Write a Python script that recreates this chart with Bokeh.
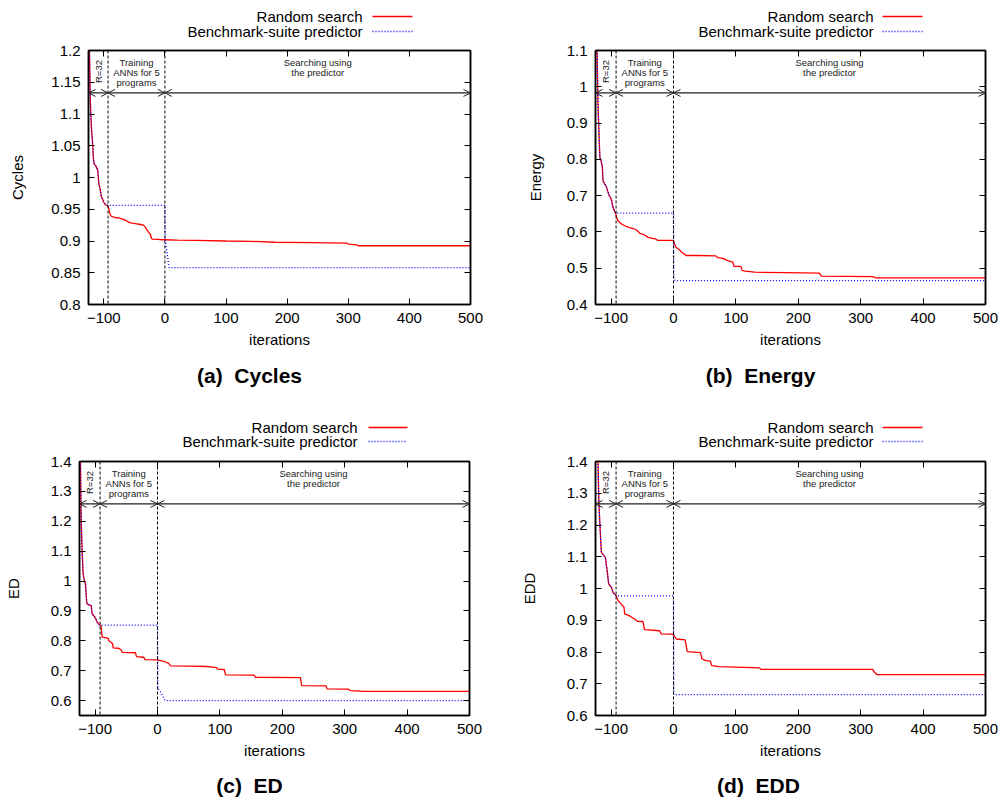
from bokeh.plotting import figure
from bokeh.models import (Range1d, FixedTicker, LinearAxis, Span, Label, Arrow,
                          OpenHead, CustomJSTickFormatter)
from bokeh.layouts import column, row
from bokeh.embed import file_html
from bokeh.resources import INLINE

FONT = "Liberation Sans"

# ---------------- data ----------------
X_RANGE = (-125, 500)
X_TICKS = [-100, 0, 100, 200, 300, 400, 500]
SERIES_NAMES = ["Random search", "Benchmark-suite predictor"]
SERIES_COLORS = ["#ff0000", "#0000ff"]
SERIES_DASH = ["solid", "1 2"]

# (a) Cycles
A_rx = [-125, -123.5, -122, -120, -118, -117, -116, -113, -111, -110, -108, -106, -104, -102, -100,
        -97, -94, -92, -90, -88, -82, -74, -68, -63, -58, -53, -46, -40, -35, -33, -31, -29, -27, -24,
        -22, -20, -12, -4, 0, 20, 50, 100, 140, 180, 240, 298, 300, 314, 316, 500]
A_ry = [1.40, 1.20, 1.12, 1.075, 1.05, 1.03, 1.022, 1.018, 1.014, 1.012, 0.99, 0.982, 0.97, 0.966, 0.961,
        0.957, 0.956, 0.952, 0.943, 0.939, 0.937, 0.936, 0.934, 0.932, 0.929, 0.928, 0.927, 0.926, 0.925, 0.923,
        0.92, 0.917, 0.914, 0.911, 0.904, 0.903, 0.9025, 0.902, 0.902, 0.9015, 0.901, 0.9, 0.8995, 0.898, 0.8975,
        0.8965, 0.895, 0.894, 0.8925, 0.8925]
A_bx = [-125, -123.5, -122, -120, -118, -117, -116, -113, -111, -110, -108, -106, -104, -102, -100,
        -97, -93, 0, 0.5, 3, 7, 500]
A_by = [1.40, 1.20, 1.12, 1.075, 1.05, 1.03, 1.022, 1.018, 1.014, 1.012, 0.99, 0.982, 0.97, 0.966, 0.961,
        0.957, 0.956, 0.956, 0.90, 0.885, 0.858, 0.858]

# (b) Energy
B_rx = [-125, -122.5, -121, -120, -119, -118, -116, -114, -113, -110, -108, -105, -103, -101, -99, -97, -95,
        -93, -91, -89, -86, -83, -78, -73, -66, -60, -56, -54, -48, -45, -41, -35, -28, -25, -10, 0, 2, 4, 7,
        10, 13, 17, 20, 40, 68, 71, 79, 87, 95, 97, 108, 110, 115, 130, 180, 234, 237, 280, 319, 324, 500]
B_ry = [1.3, 1.1, 0.95, 0.9, 0.85, 0.806, 0.795, 0.78, 0.74, 0.732, 0.727, 0.71, 0.7, 0.695, 0.685, 0.668, 0.66,
        0.652, 0.64, 0.631, 0.626, 0.622, 0.617, 0.613, 0.61, 0.606, 0.6, 0.596, 0.593, 0.59, 0.585, 0.583, 0.58,
        0.5765, 0.5765, 0.5765, 0.565, 0.558, 0.5535, 0.55, 0.544, 0.54, 0.535, 0.535, 0.534, 0.529, 0.527,
        0.521, 0.517, 0.505, 0.505, 0.494, 0.492, 0.489, 0.488, 0.4865, 0.478, 0.4775, 0.477, 0.4735, 0.4735]
B_bx = [-125, -122.5, -121, -120, -119, -118, -116, -114, -113, -110, -108, -105, -103, -101, -99, -97, -95,
        -93, 0, 0.5, 2.5, 500]
B_by = [1.3, 1.1, 0.95, 0.9, 0.85, 0.806, 0.795, 0.78, 0.74, 0.732, 0.727, 0.71, 0.7, 0.695, 0.685, 0.668, 0.66,
        0.652, 0.652, 0.475, 0.466, 0.466]

# (c) ED
C_rx = [-125, -123.5, -122.4, -120.8, -119.2, -117, -115.4, -113.5, -112.7, -106.3, -105, -104.7, -102, -100.5,
        -98, -96.7, -94, -92, -90.5, -88.6, -82, -79, -78, -74.5, -72, -71, -62, -58, -56.6, -35.3, -33.7, -22,
        -20.3, 0, 10, 18, 21, 50, 79.6, 88, 95, 96, 107, 109, 154.5, 157, 229, 231, 270, 272, 306, 309, 330, 500]
C_ry = [1.6, 1.4, 1.213, 1.101, 1.024, 1.0, 0.99, 0.93, 0.923, 0.918, 0.895, 0.89, 0.884, 0.879, 0.87, 0.862,
        0.856, 0.852, 0.85, 0.812, 0.81, 0.808, 0.80, 0.795, 0.79, 0.776, 0.775, 0.768, 0.7615, 0.76, 0.747, 0.745,
        0.737, 0.736, 0.7315, 0.7247, 0.716, 0.715, 0.714, 0.712, 0.71, 0.705, 0.704, 0.686, 0.685, 0.678, 0.677,
        0.65, 0.649, 0.639, 0.638, 0.6335, 0.631, 0.631]
C_bx = [-125, -123.5, -122.4, -120.8, -119.2, -117, -115.4, -113.5, -112.7, -106.3, -105, -104.7, -102, -100.5,
        -98, -96.7, -94, -92, 0, 0.5, 4, 12, 500]
C_by = [1.6, 1.4, 1.213, 1.101, 1.024, 1.0, 0.99, 0.93, 0.923, 0.918, 0.895, 0.89, 0.884, 0.879, 0.87, 0.862,
        0.856, 0.8525, 0.8525, 0.64, 0.632, 0.60, 0.60]

# (d) EDD
D_rx = [-125, -121, -119.7, -118, -115.6, -112, -109.2, -106, -103.9, -99.6, -97, -92, -89, -84, -79.3, -78.3,
        -71.3, -62.4, -58, -49, -46.4, -22.4, -19.7, -3.7, 0, 4.3, 18.7, 22, 43.2, 45.8, 52.2, 59.2, 61.3, 73.6,
        137.6, 140, 194, 319.5, 322, 326, 500]
D_ry = [1.6, 1.4, 1.276, 1.203, 1.114, 1.105, 1.098, 1.051, 1.014, 1.004, 0.988, 0.9775, 0.962, 0.9514, 0.941,
        0.92, 0.9145, 0.904, 0.8967, 0.896, 0.8705, 0.867, 0.857, 0.856, 0.855, 0.841, 0.838, 0.801, 0.798, 0.778,
        0.773, 0.771, 0.757, 0.754, 0.75, 0.7456, 0.745, 0.745, 0.736, 0.729, 0.729]
D_bx = [-125, -121, -119.7, -118, -115.6, -112, -109.2, -106, -103.9, -99.6, -97, -92, 0, 0.5, 500]
D_by = [1.6, 1.4, 1.276, 1.203, 1.114, 1.105, 1.098, 1.051, 1.014, 1.004, 0.988, 0.9765, 0.9765, 0.666, 0.666]

W = 502
NB = "\u00a0"
PANELS = [
    dict(caption="(a)" + NB + NB + "Cycles", ylabel="Cycles", yr=(0.8, 1.2),
         yt=[0.8, 0.85, 0.9, 0.95, 1.0, 1.05, 1.1, 1.15, 1.2], rend=-93,
         rx=A_rx, ry=A_ry, bx=A_bx, by=A_by,
         leg_h=42, leg_rows=(16, 31), leg_text_x=362, leg_line=(372, 412),
         main_h=318, left=88, right=32, top=8, bottom=56, ylstand=22,
         cap_h=40, cap_x=249, cap_y=14.5),
    dict(caption="(b)" + NB + NB + "Energy", ylabel="Energy", yr=(0.4, 1.1),
         yt=[0.4, 0.5, 0.6, 0.7, 0.8, 0.9, 1.0, 1.1], rend=-92,
         rx=B_rx, ry=B_ry, bx=B_bx, by=B_by,
         leg_h=42, leg_rows=(16, 31), leg_text_x=371, leg_line=(380, 420),
         main_h=318, left=93, right=19, top=8, bottom=56, ylstand=20,
         cap_h=40, cap_x=258, cap_y=14.5),
    dict(caption="(c)" + NB + NB + "ED", ylabel="ED", yr=(0.55, 1.4),
         yt=[0.6, 0.7, 0.8, 0.9, 1.0, 1.1, 1.2, 1.3, 1.4], rend=-92,
         rx=C_rx, ry=C_ry, bx=C_bx, by=C_by,
         leg_h=50, leg_rows=(27, 41), leg_text_x=357, leg_line=(368, 407),
         main_h=315, left=79, right=33, top=11, bottom=50, ylstand=26,
         cap_h=36, cap_x=249, cap_y=20),
    dict(caption="(d)" + NB + NB + "EDD", ylabel="EDD", yr=(0.6, 1.4),
         yt=[0.6, 0.7, 0.8, 0.9, 1.0, 1.1, 1.2, 1.3, 1.4], rend=-92,
         rx=D_rx, ry=D_ry, bx=D_bx, by=D_by,
         leg_h=50, leg_rows=(27, 41), leg_text_x=371, leg_line=(380, 420),
         main_h=315, left=93, right=19, top=11, bottom=50, ylstand=26,
         cap_h=36, cap_x=256, cap_y=20),
]

YFMT = "return String(parseFloat(tick.toFixed(2)));"
EMPTY = "return '';"


def blank_fig(c, h):
    # the frame of this helper figure is aligned (by the column layout) with the frame
    # of the main plot, so its x range is expressed in figure-pixel coordinates
    f = figure(width=W, height=h, x_range=Range1d(c["left"], W - c["right"]), y_range=Range1d(h, 0),
               output_backend="svg", toolbar_location=None,
               x_axis_location=None, y_axis_location=None,
               min_border_left=c["left"], min_border_right=c["right"],
               min_border_top=0, min_border_bottom=0)
    f.xgrid.visible = False
    f.ygrid.visible = False
    f.outline_line_color = None
    f.background_fill_color = "white"
    f.border_fill_color = "white"
    return f


def legend_fig(c):
    f = blank_fig(c, c["leg_h"])
    for name, col, dash, ry in zip(SERIES_NAMES, SERIES_COLORS, SERIES_DASH, c["leg_rows"]):
        f.add_layout(Label(x=c["leg_text_x"], y=ry, text=name, text_font=FONT, text_font_size="15px",
                           text_align="right", text_baseline="middle", text_color="black"))
        f.line(x=list(c["leg_line"]), y=[ry, ry], line_color=col, line_width=1.3, line_dash=dash)
    return f


def caption_fig(c):
    f = blank_fig(c, c["cap_h"])
    f.add_layout(Label(x=c["cap_x"], y=c["cap_y"], text=c["caption"], text_font=FONT,
                       text_font_size="21px", text_font_style="bold", text_align="center",
                       text_baseline="middle", text_color="black"))
    return f


def style_axis(ax):
    ax.major_tick_in = 6
    ax.major_tick_out = 0
    ax.minor_tick_in = 0
    ax.minor_tick_out = 0
    ax.axis_line_width = 1.5
    ax.axis_line_color = "black"
    ax.major_tick_line_color = "black"
    ax.major_tick_line_width = 1
    ax.major_label_text_font = FONT
    ax.major_label_text_font_size = "15px"
    ax.major_label_text_color = "black"
    ax.major_label_standoff = 8
    ax.axis_label_text_font = FONT
    ax.axis_label_text_font_size = "15px"
    ax.axis_label_text_font_style = "normal"
    ax.axis_label_text_color = "black"


def main_fig(c):
    fh = c["main_h"] - c["top"] - c["bottom"]
    y0, y1 = c["yr"]
    p = figure(width=W, height=c["main_h"], x_range=Range1d(*X_RANGE), y_range=Range1d(y0, y1),
               output_backend="svg", toolbar_location=None,
               min_border_left=c["left"], min_border_right=c["right"],
               min_border_top=c["top"], min_border_bottom=c["bottom"])
    p.xgrid.visible = False
    p.ygrid.visible = False
    p.outline_line_color = "black"
    p.outline_line_width = 1.5
    p.background_fill_color = "white"
    p.border_fill_color = "white"

    p.xaxis.ticker = FixedTicker(ticks=X_TICKS)
    p.yaxis.ticker = FixedTicker(ticks=c["yt"])
    p.yaxis.formatter = CustomJSTickFormatter(code=YFMT)
    p.xaxis.axis_label = "iterations"
    p.yaxis.axis_label = c["ylabel"]
    top_ax = LinearAxis(ticker=FixedTicker(ticks=X_TICKS), formatter=CustomJSTickFormatter(code=EMPTY))
    right_ax = LinearAxis(ticker=FixedTicker(ticks=c["yt"]), formatter=CustomJSTickFormatter(code=EMPTY))
    p.add_layout(top_ax, "above")
    p.add_layout(right_ax, "right")
    for ax in p.axis:
        style_axis(ax)
    for ax in (top_ax, right_ax):
        ax.major_label_standoff = 0
        ax.major_label_text_font_size = "1px"
    p.xaxis[0].axis_label_standoff = 5
    p.yaxis[0].axis_label_standoff = c["ylstand"]

    # series
    p.line(c["rx"], c["ry"], line_color=SERIES_COLORS[0], line_width=1.3)
    p.line(c["bx"], c["by"], line_color=SERIES_COLORS[1], line_width=1.3, line_dash=SERIES_DASH[1])

    # phase separators
    rend = c["rend"]
    for loc in (rend, 0):
        p.add_layout(Span(location=loc, dimension="height", line_color="black",
                          line_dash="3 2", line_width=1))
    ya = y0 + 0.833 * (y1 - y0)
    for xs, xe in ((X_RANGE[0], rend), (rend, 0), (0, X_RANGE[1])):
        p.add_layout(Arrow(x_start=xs, y_start=ya, x_end=xe, y_end=ya,
                           start=OpenHead(size=7, line_width=1, line_color="#222222"),
                           end=OpenHead(size=7, line_width=1, line_color="#222222"),
                           line_color="#222222", line_width=1.3))

    small = dict(x_units="data", y_units="screen", text_font=FONT, text_font_size="9.5px",
                 text_align="center", text_baseline="middle", text_color="#222222")
    p.add_layout(Label(x=(X_RANGE[0] + rend) / 2, y=fh - 21, text="R=32", angle=90, angle_units="deg", **small))
    for i, t in enumerate(["Training", "ANNs for 5", "programs"]):
        p.add_layout(Label(x=rend / 2, y=fh - 12 - 10 * i, text=t, **small))
    for i, t in enumerate(["Searching using", "the predictor"]):
        p.add_layout(Label(x=250, y=fh - 12 - 10 * i, text=t, **small))
    return p


cols = [column(legend_fig(c), main_fig(c), caption_fig(c)) for c in PANELS]
layout = column(row(cols[0], cols[1]), row(cols[2], cols[3]))

with open("out.html", "w") as f:
    f.write(file_html(layout, INLINE))
